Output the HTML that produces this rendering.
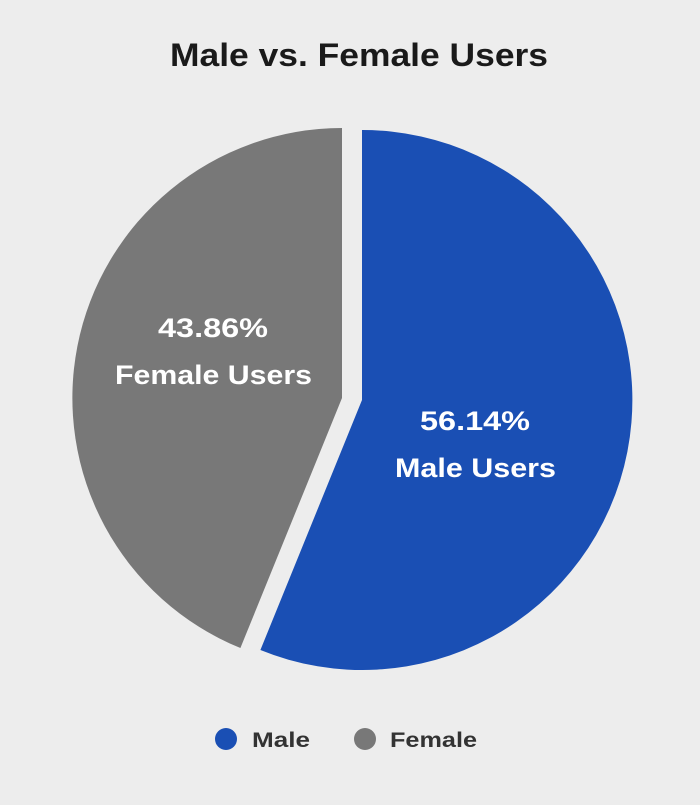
<!DOCTYPE html>
<html><head><meta charset="utf-8"><style>
html,body{margin:0;padding:0;}
body{width:700px;height:800px;background:#ececec;font-family:"Liberation Sans",sans-serif;}
</style></head><body>
<svg width="700" height="800" viewBox="0 0 700 800" xmlns="http://www.w3.org/2000/svg">
<rect width="700" height="800" fill="#ededed"/>
<text x="170" y="66" textLength="378" lengthAdjust="spacingAndGlyphs" font-family="Liberation Sans, sans-serif" font-weight="bold" font-size="32" fill="#1a1a1a">Male vs. Female Users</text>
<path d="M362,400 L362,130 A270,270 0 1 1 260.4,650 Z" fill="#1a4fb4"/>
<path d="M342,398 L240.4,648 A270,270 0 0 1 342,128 Z" fill="#787878"/>
<g font-family="Liberation Sans, sans-serif" font-weight="bold" font-size="27" fill="#ffffff">
<text x="158" y="337" textLength="110" lengthAdjust="spacingAndGlyphs">43.86%</text>
<text x="115" y="384" textLength="197" lengthAdjust="spacingAndGlyphs">Female Users</text>
<text x="420" y="430" textLength="110" lengthAdjust="spacingAndGlyphs">56.14%</text>
<text x="395" y="477" textLength="161" lengthAdjust="spacingAndGlyphs">Male Users</text>
</g>
<circle cx="226" cy="739" r="11" fill="#1a4fb4"/>
<circle cx="365" cy="739" r="11" fill="#787878"/>
<g font-family="Liberation Sans, sans-serif" font-weight="bold" font-size="21" fill="#333">
<text x="252" y="747" textLength="58" lengthAdjust="spacingAndGlyphs">Male</text>
<text x="390" y="747" textLength="87" lengthAdjust="spacingAndGlyphs">Female</text>
</g>
</svg>
</body></html>
